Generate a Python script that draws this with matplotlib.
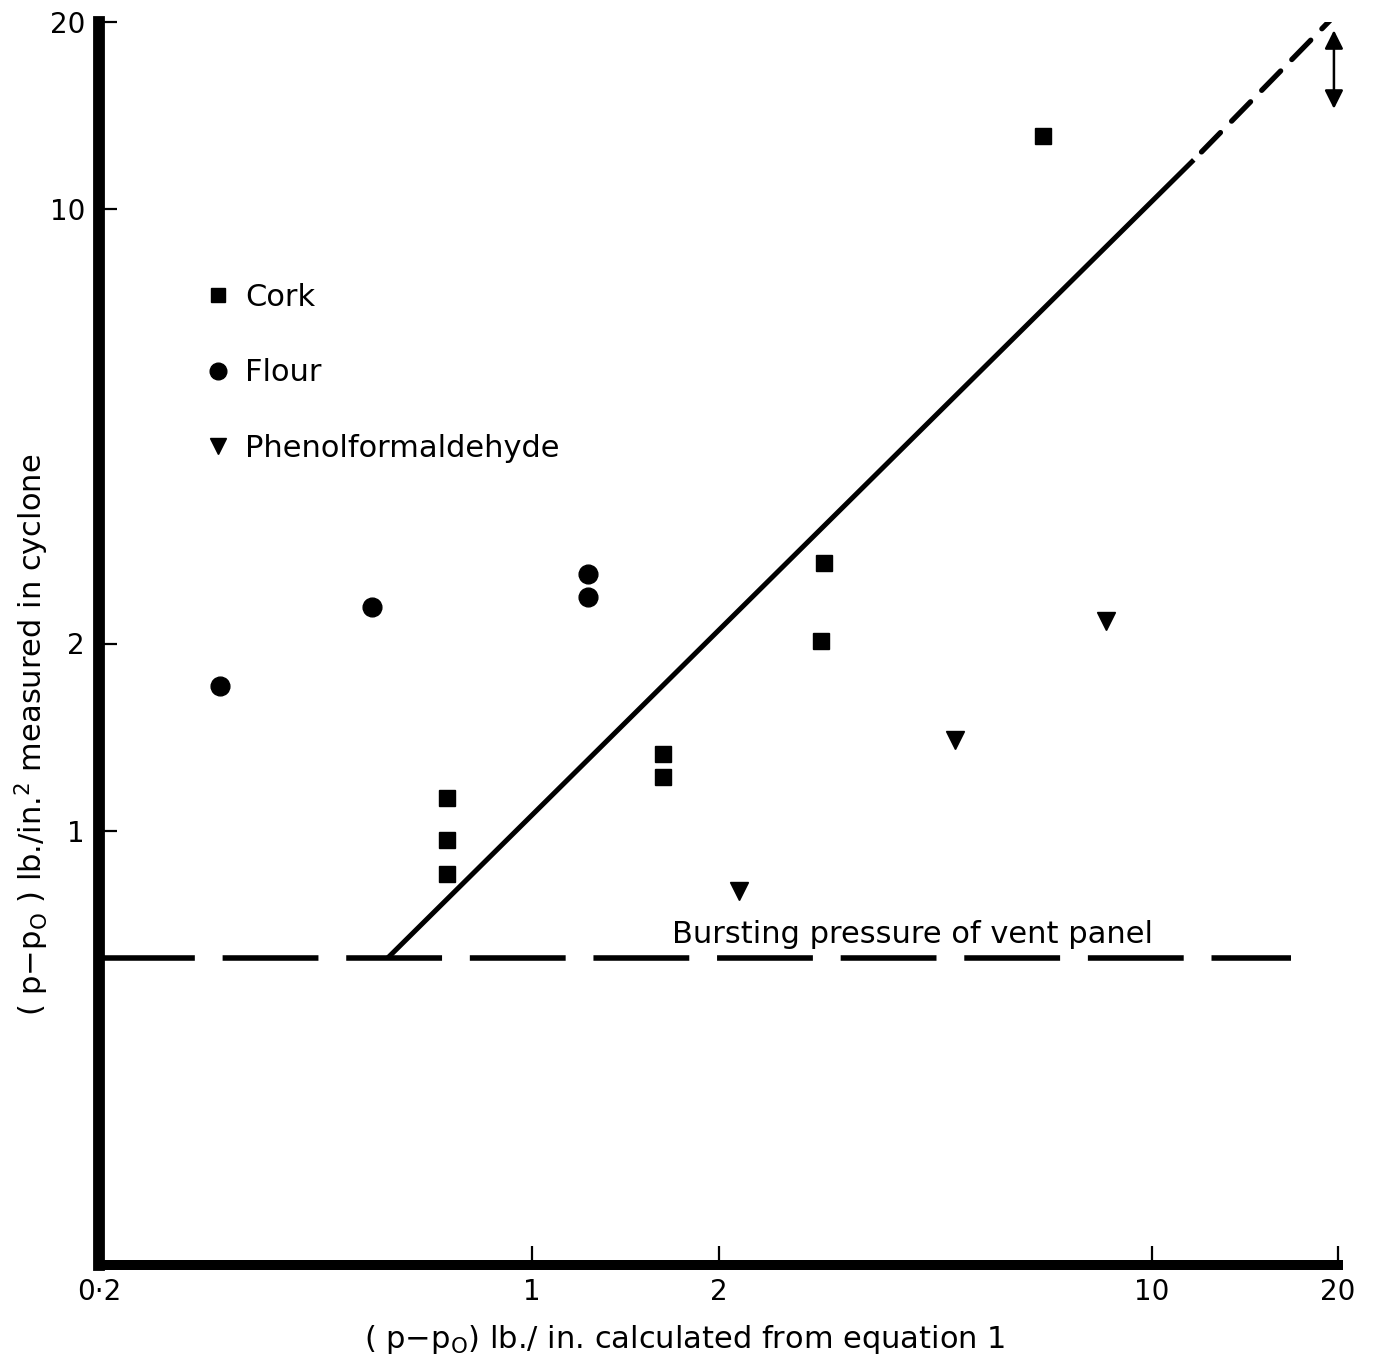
import matplotlib
matplotlib.use("Agg")
import matplotlib.pyplot as plt
from matplotlib.lines import Line2D

plt.rcParams['font.family'] = ['DejaVu Sans']
plt.rcParams['lines.scale_dashes'] = False

# Measured vs calculated overpressure (lb/in^2)
cork_x = [0.73, 0.73, 0.73, 1.63, 1.63, 2.96, 2.93, 6.67]
cork_y = [1.13, 0.967, 0.85, 1.33, 1.22, 2.69, 2.02, 13.1]

flour_x = [0.313, 0.551, 1.23, 1.23]
flour_y = [1.71, 2.29, 2.59, 2.38]

phenol_x = [2.16, 4.82, 8.45]
phenol_y = [0.80, 1.40, 2.17]

# Vent panel bursting pressure
burst_p = 0.624
burst_x = [0.2, 16.8]

# Agreement line: solid section then extrapolated (dashed) section
line_solid_x = [0.585, 11.7]
line_solid_y = [0.624, 12.0]
line_dash_x = [11.7, 19.4]
line_dash_y = [12.0, 20.1]

# Scatter band shown at top right
band_x = 19.7
band_y = [14.5, 19.4]

x_ticks = [0.2, 1, 2, 10, 20]
x_ticklabels = ['0·2', '1', '2', '10', '20']
y_ticks = [1, 2, 10, 20]
y_ticklabels = ['1', '2', '10', '20']

W, H = 1379, 1363
fig = plt.figure(figsize=(W / 100, H / 100), dpi=100)
left, right, top, bottom = 99, 1338, 22, 1265
ax = fig.add_axes([left / W, 1 - bottom / H, (right - left) / W, (bottom - top) / H])

ax.set_xscale('log')
ax.set_yscale('log')
ax.set_xlim(0.2, 20)
ax.set_ylim(0.2, 20)

ax.minorticks_off()
ax.set_xticks(x_ticks)
ax.set_xticklabels(x_ticklabels)
ax.set_yticks(y_ticks)
ax.set_yticklabels(y_ticklabels)
ax.tick_params(axis='x', which='major', direction='in', length=14, width=1.6,
               labelsize=20, pad=9, colors='black')
ax.tick_params(axis='y', which='major', direction='in', length=13, width=1.6,
               labelsize=20, pad=10, colors='black')

for s in ('top', 'right'):
    ax.spines[s].set_visible(False)
ax.spines['left'].set_linewidth(8.5)
ax.spines['bottom'].set_linewidth(7.2)

# Bursting pressure line
ax.plot(burst_x, [burst_p, burst_p], color='black', lw=4.0,
        linestyle=(0, (69, 20)), dash_capstyle='butt')
ax.text(4.11, 0.68, 'Bursting pressure of vent panel', fontsize=22,
        ha='center', va='center')

# Agreement line
ax.plot(line_solid_x, line_solid_y, color='black', lw=3.6, solid_capstyle='butt')
ax.plot(line_dash_x, line_dash_y, color='black', lw=3.8,
        linestyle=(-8, (19.5, 11.5)), dash_capstyle='round')

# Double-headed arrow
ax.annotate('', xy=(band_x, band_y[0]), xytext=(band_x, band_y[1]),
            arrowprops=dict(arrowstyle='<|-|>', color='black', lw=1.8,
                            mutation_scale=28, shrinkA=0, shrinkB=0))

# Data points
ax.plot(cork_x, cork_y, ls='none', marker='s', ms=11.5, color='black')
ax.plot(flour_x, flour_y, ls='none', marker='o', ms=13.5, color='black')
ax.plot(phenol_x, phenol_y, ls='none', marker='v', ms=13, color='black')

handles = [
    Line2D([], [], ls='none', marker='s', ms=10, color='black'),
    Line2D([], [], ls='none', marker='o', ms=12, color='black'),
    Line2D([], [], ls='none', marker='v', ms=11, color='black'),
]
ax.legend(handles, ['Cork', 'Flour', 'Phenolformaldehyde'], loc='upper left',
          bbox_to_anchor=(0.089, 0.790), frameon=False, fontsize=22,
          handlelength=0.6, handletextpad=0.58, labelspacing=1.52,
          borderaxespad=0, borderpad=0)

fig.text(685 / W, 1 - 1340 / H,
         r'( p$-$p$_\mathregular{O}$) lb./ in. calculated from equation 1',
         fontsize=22, ha='center', va='center')
fig.text(32 / W, 1 - 735 / H,
         r'( p$-$p$_\mathregular{O}$ ) lb./in.$^\mathregular{2}$ measured in cyclone',
         fontsize=22, ha='center', va='center', rotation=90)

fig.savefig('out.png', dpi=100)
